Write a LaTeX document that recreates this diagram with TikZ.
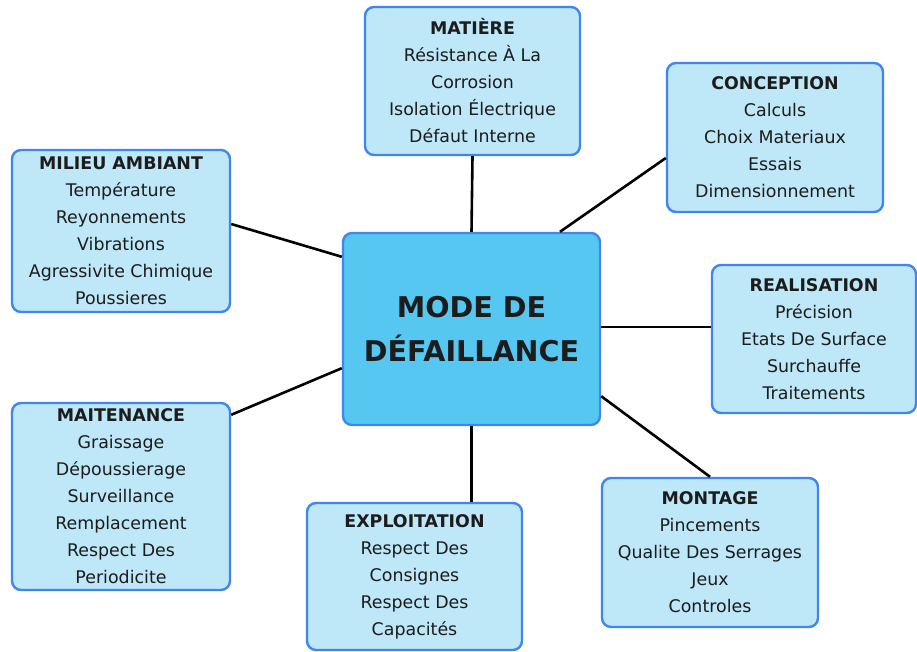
\documentclass[tikz,border=0pt]{standalone}
\usepackage{fontspec}
\setmainfont{DejaVu Sans}
\definecolor{boxfill}{HTML}{BEE7F8}
\definecolor{boxline}{HTML}{3F86EE}
\definecolor{hubfill}{HTML}{56C7F1}
\definecolor{ink}{HTML}{1C1C1C}
\begin{document}
\begin{tikzpicture}[x=1pt,y=-1pt,
  card/.style={draw=boxline, fill=boxfill, line width=2.4pt, rounded corners=9pt,
    inner sep=0pt, align=center, text=ink, font=\fontsize{17.4}{27}\selectfont},
  hub/.style={card, fill=hubfill, font=\fontsize{28.6}{44}\selectfont\bfseries},
  link/.style={line width=2.6pt, draw=black}]
\fill[white] (0,0) rectangle (917,652);
\useasboundingbox (0,0) rectangle (917,652);

% central topic
\node[hub, minimum width=257pt, minimum height=192pt] (hubnode) at (471.5,329)
  {MODE DE\\DÉFAILLANCE};

% surrounding categories
\node[card, minimum width=215pt, minimum height=148pt] (matiere) at (472.5,81)
  {\textbf{MATIÈRE}\\Résistance À La\\Corrosion\\Isolation Électrique\\Défaut Interne};
\node[card, minimum width=216pt, minimum height=149pt] (conception) at (775,137.5)
  {\textbf{CONCEPTION}\\Calculs\\Choix Materiaux\\Essais\\Dimensionnement};
\node[card, minimum width=218pt, minimum height=162pt] (milieu) at (121,231)
  {\textbf{MILIEU AMBIANT}\\Température\\Reyonnements\\Vibrations\\Agressivite Chimique\\Poussieres};
\node[card, minimum width=204pt, minimum height=148pt] (realisation) at (814,339)
  {\textbf{REALISATION}\\Précision\\Etats De Surface\\Surchauffe\\Traitements};
\node[card, minimum width=218pt, minimum height=187pt] (maint) at (121,496.5)
  {\textbf{MAITENANCE}\\Graissage\\Dépoussierage\\Surveillance\\Remplacement\\Respect Des\\Periodicite};
\node[card, minimum width=215pt, minimum height=147pt] (exploit) at (414.5,576.5)
  {\textbf{EXPLOITATION}\\Respect Des\\Consignes\\Respect Des\\Capacités};
\node[card, minimum width=216pt, minimum height=149pt] (montage) at (710,552.5)
  {\textbf{MONTAGE}\\Pincements\\Qualite Des Serrages\\Jeux\\Controles};

% connectors
\coordinate (rl) at ([yshift=12pt]realisation.west);
\draw[link] (matiere.south) -- (hubnode.north);
\draw[link] ([yshift=-20.5pt]conception.west) -- ([xshift=88.5pt]hubnode.north);
\draw[link] ([yshift=7pt]milieu.east) -- ([yshift=-25pt]hubnode.north west);
\draw[link] (rl) -- (rl -| hubnode.east);
\draw[link] ([yshift=-13pt]maint.north east) -- ([yshift=58pt]hubnode.south west);
\draw[link] (hubnode.south) -- (hubnode.south |- exploit.north);
\draw[link] (montage.north) -- ([yshift=30pt]hubnode.south east);
\end{tikzpicture}
\end{document}
